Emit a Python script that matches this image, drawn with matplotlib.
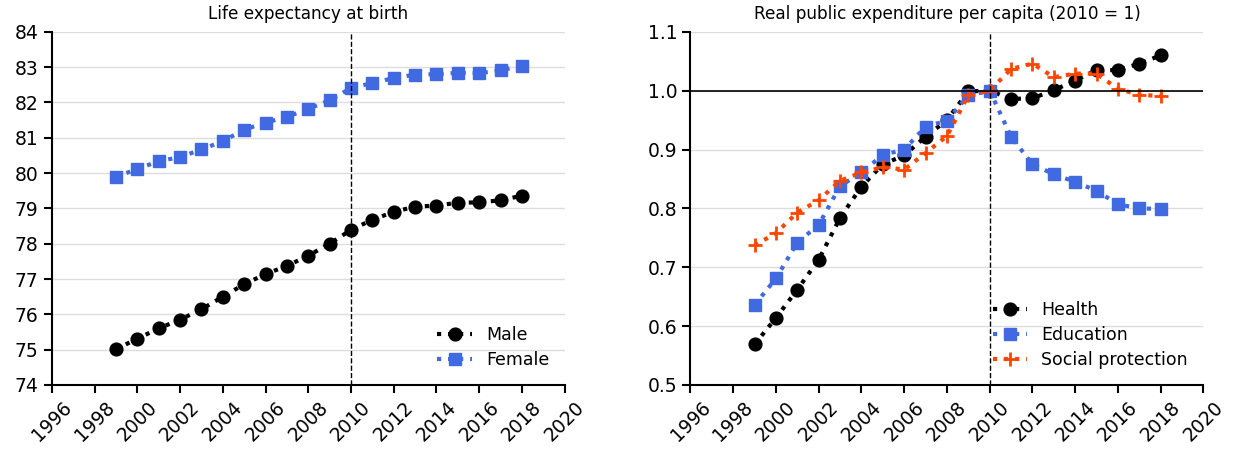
import matplotlib
matplotlib.use('Agg')
import matplotlib.pyplot as plt

years = list(range(1999, 2019))

male = [75.01, 75.31, 75.60, 75.85, 76.14, 76.50, 76.85, 77.14, 77.37, 77.66,
        78.00, 78.39, 78.68, 78.90, 79.05, 79.08, 79.16, 79.17, 79.23, 79.36]
female = [79.90, 80.11, 80.34, 80.45, 80.67, 80.90, 81.23, 81.43, 81.59, 81.82,
          82.06, 82.41, 82.55, 82.69, 82.79, 82.80, 82.84, 82.83, 82.91, 83.04]

health = [0.569, 0.614, 0.662, 0.713, 0.784, 0.837, 0.875, 0.890, 0.922, 0.950,
          0.999, 1.000, 0.986, 0.987, 1.001, 1.017, 1.035, 1.035, 1.046, 1.060]
education = [0.636, 0.681, 0.742, 0.772, 0.838, 0.861, 0.891, 0.900, 0.939, 0.949,
             0.992, 1.000, 0.922, 0.875, 0.858, 0.845, 0.830, 0.807, 0.800, 0.799]
social = [0.737, 0.758, 0.793, 0.814, 0.847, 0.861, 0.870, 0.866, 0.894, 0.923,
          0.992, 1.000, 1.037, 1.046, 1.023, 1.029, 1.029, 1.003, 0.993, 0.991]

xticks = list(range(1996, 2021, 2))

fig = plt.figure(figsize=(12.33, 4.55), dpi=100)
ax1 = fig.add_axes([0.042, 0.154, 0.416, 0.776])
ax2 = fig.add_axes([0.560, 0.154, 0.416, 0.776])

ax1.plot(years, male, ':', color='black', lw=3, marker='o', ms=9.2, label='Male')
ax1.plot(years, female, ':', color='royalblue', lw=3, marker='s', ms=9.2, label='Female')
ax1.set_ylim(74, 84)
ax1.set_yticks(range(74, 85))
ax1.set_title('Life expectancy at birth', fontsize=12.2, pad=9)

ax2.plot(years, health, ':', color='black', lw=3, marker='o', ms=9.2, label='Health')
ax2.plot(years, education, ':', color='royalblue', lw=3, marker='s', ms=9.2, label='Education')
ax2.plot(years, social, ':', color='orangered', lw=3, marker='+', ms=10, mew=2, label='Social protection')
ax2.axhline(1.0, color='black', lw=1.2)
ax2.set_ylim(0.5, 1.1)
ax2.set_yticks([0.5, 0.6, 0.7, 0.8, 0.9, 1.0, 1.1])
ax2.set_title('Real public expenditure per capita (2010 = 1)', fontsize=12.2, pad=9)

for ax in (ax1, ax2):
    ax.axvline(2010, color='black', ls='--', lw=1)
    ax.set_xlim(1996, 2020)
    ax.set_xticks(xticks)
    ax.set_xticklabels([str(t) for t in xticks], rotation=45)
    ax.tick_params(labelsize=13.5, width=1.5, length=6)
    ax.grid(axis='y', color='#dddddd', lw=1)
    ax.set_axisbelow(True)
    for s in ('top', 'right'):
        ax.spines[s].set_visible(False)
    for s in ('left', 'bottom'):
        ax.spines[s].set_linewidth(1.5)
    ax.legend(loc='lower right', frameon=False, fontsize=12.5, labelspacing=0.4)

fig.savefig('out.png', dpi=100)
